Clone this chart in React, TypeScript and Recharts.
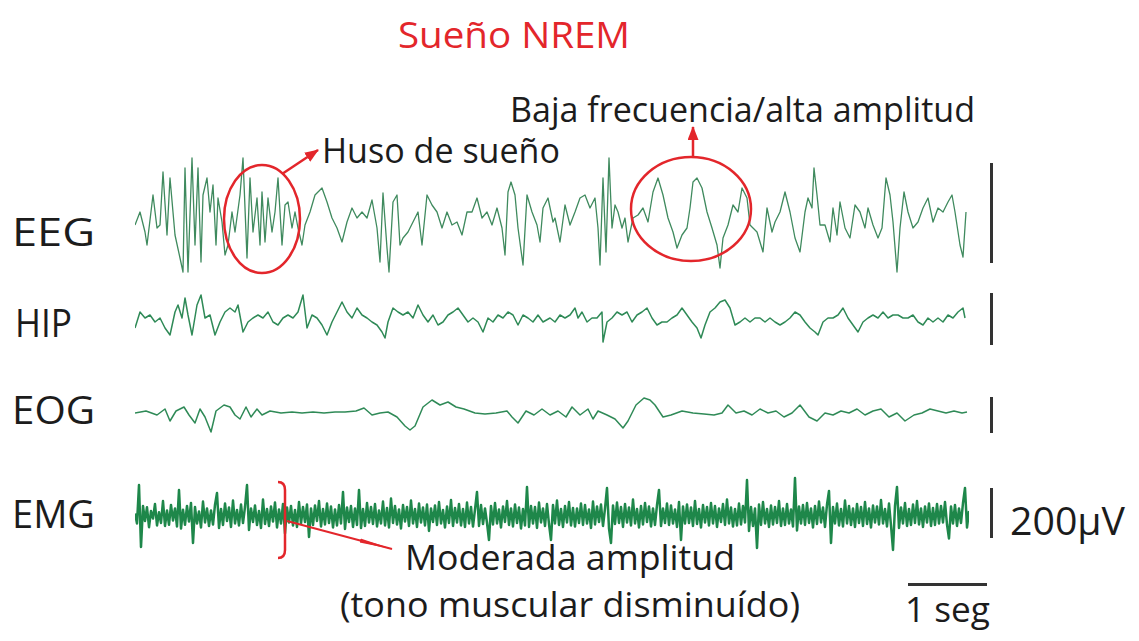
import React from 'react';
import { LineChart, Line, XAxis, YAxis } from 'recharts';

// Time is in screen samples (about 79 samples = 1 s), amplitude in µV.
const eeg: [number, number][] = [
  [0, 0], [5, 26], [10, -14], [12, -40], [18, 60], [22, -6], [25, 0], [28, 106], [32, -20], [35, 94],
  [40, -20], [45, -66], [48, -94], [50, 114], [53, -94], [57, 134], [60, -40], [63, 114], [66, -74], [68, 60],
  [72, 94], [75, 26], [78, 80], [81, -40], [83, 54], [87, 6], [90, -60], [93, -40], [97, 26], [100, -14],
  [105, 60], [108, 134], [112, -66], [115, 94], [118, -14], [122, 54], [125, -40], [127, 66], [130, -34], [133, 54],
  [137, -14], [140, 26], [143, 94], [147, -40], [150, 40], [153, 46], [157, -6], [160, 26], [163, -6], [167, -40],
  [170, 0], [175, 26], [180, 60], [187, 74], [192, 46], [197, 14], [202, -6], [207, -34],
  [212, 6], [217, 34], [222, 14], [227, 26], [232, 14], [237, 50], [242, -6], [245, -74], [248, 64], [252, -46],
  [254, -94], [258, 46], [262, 60], [265, -40], [268, -26], [273, -14], [278, 6], [283, 26], [287, -40], [292, 60],
  [297, 40], [302, 26], [307, -6], [312, 26], [317, 0], [322, 6], [327, -20], [332, 26], [337, 26], [342, 54],
  [347, 14], [352, 26], [357, 0], [362, 34], [367, -6], [370, -60], [373, 66], [376, 86], [380, 60], [383, -6],
  [388, -80], [392, 60], [397, 26], [402, 0], [405, -34], [408, 34], [413, 54], [418, 6],
  [420, 14], [425, -34], [430, 40], [435, 0], [440, 26], [445, 54], [450, 60], [455, 34], [460, 54], [463, -6],
  [465, -80], [468, 94], [471, -54], [474, 134], [477, -6], [480, 40], [483, 26], [487, -6], [490, 14], [493, -34],
  [498, 14], [503, 20], [508, 34], [513, 6], [518, 66], [523, 94], [528, 60], [533, 14], [538, -14], [542, -46],
  [547, -20], [552, -6], [555, 34], [558, 86], [562, 94], [567, 74], [572, 26], [577, -6], [582, -40], [585, -86],
  [588, -26], [593, 0], [598, 40], [603, 26], [607, 74], [612, 54], [615, 0], [622, -14],
  [628, -54], [632, 34], [637, -14], [640, 6], [645, 26], [650, 66], [655, 26], [660, -26], [665, -54], [670, 26],
  [673, 54], [677, 34], [679, 114], [682, 60], [685, 0], [690, 0], [695, -34], [698, 34], [702, -20], [705, 46],
  [710, -6], [715, -26], [720, 40], [725, 26], [730, -6], [733, 34], [738, 0], [743, -26], [747, -6], [751, 94],
  [755, 60], [758, 6], [762, -94], [765, -6], [769, 66], [773, 26], [778, -6], [783, 6], [788, 34], [793, 54],
  [798, 6], [803, 34], [808, 26], [813, 46], [817, 60], [820, 26], [825, -40], [828, -64], [831, 26],
];

const hip: [number, number][] = [
  [0, -40], [5, 24], [10, 0], [15, 12], [20, -16], [25, 0], [30, -40], [35, -68], [40, 24], [43, 52],
  [47, 0], [50, 80], [53, 12], [57, -68], [62, 52], [66, 92], [70, 0], [75, 12], [80, -68], [85, -16],
  [90, 24], [95, 40], [100, 24], [103, 52], [108, -56], [113, -16], [118, 0], [123, 12], [128, 0], [133, 24],
  [138, -16], [143, -28], [148, 0], [153, 12], [158, 0], [163, 24], [168, 92], [172, -40], [177, 12], [182, 0],
  [187, -28], [192, -68], [197, -16], [202, 24], [207, 64], [212, 24], [217, 0], [222, 40], [227, 12], [232, 0],
  [237, -16], [242, -28], [247, -56], [250, -80], [253, -16], [258, 40], [263, 24], [268, 12], [273, 24], [278, 0],
  [283, 52], [288, 12], [293, -16], [298, 12], [303, -28], [308, -16], [313, 12], [318, 24], [323, 40], [328, 12],
  [333, -16], [338, 0], [343, -16], [348, -56], [353, 0], [358, -16], [363, 12], [368, 0], [373, 24], [378, 12],
  [383, -28], [388, 12], [393, 0], [398, -16], [403, 12], [408, -16], [415, 0], [420, -16], [425, 12], [430, 0],
  [435, 12], [440, 40], [443, 0], [447, 24], [452, -16], [457, 0], [462, 0], [467, 24], [468, -96], [472, -16],
  [477, 0], [482, 24], [487, 12], [492, 24], [497, -16], [502, 12], [507, 24], [512, 40], [517, 0], [522, -28],
  [527, -16], [532, -16], [537, 0], [542, 12], [547, 40], [552, 12], [557, -16], [562, -40], [566, -80], [570, -28],
  [575, 24], [580, 40], [585, 64], [590, 72], [595, 40], [600, -28], [605, -16], [610, 0], [615, -16], [620, 0],
  [625, 0], [630, -16], [635, 0], [640, -16], [645, -28], [650, -16], [655, 0], [660, 24], [665, 12], [670, -16],
  [675, -40], [680, -56], [683, -68], [688, -16], [693, 0], [698, 0], [703, 12], [708, 40], [713, 0], [718, -28],
  [723, -56], [728, -16], [733, 0], [738, 12], [743, 0], [748, 24], [753, 0], [758, 12], [763, 12], [768, 0],
  [773, 0], [778, 12], [783, -16], [788, -28], [793, 0], [798, -16], [803, 0], [808, -16], [813, 12], [818, 0],
  [823, 24], [828, 40], [830, 0],
];

const eog: [number, number][] = [
  [0, 0], [11, 10], [22, -10], [30, 20], [35, -40], [41, 10], [49, 30], [54, -10], [60, -50], [65, 20],
  [70, -20], [76, -95], [81, 10], [89, 40], [95, 30], [100, -10], [105, -30], [111, 30], [116, -20], [122, 20],
  [127, -10], [135, 10], [146, 0], [157, 5], [167, 0], [178, 5], [189, 0], [200, 5], [210, 5], [221, 10],
  [229, 25], [237, -10], [245, 0], [253, 5], [262, -20], [270, -65], [275, -85], [280, -65], [288, 30], [297, 65],
  [305, 40], [313, 55], [321, 30], [329, 20], [340, 0], [350, -5], [361, 0], [372, 10], [377, -20], [383, -50],
  [391, 10], [399, -10], [407, 20], [415, -10], [423, 10], [431, -20], [437, 30], [445, -10], [453, 20], [458, -30],
  [463, 10], [472, -10], [480, -30], [488, -75], [493, -40], [501, 40], [509, 75], [515, 65], [520, 40], [528, -20],
  [536, -10], [547, 10], [558, 0], [569, -5], [579, -10], [587, 0], [593, 40], [601, 0], [609, 10], [617, -10],
  [625, 20], [633, 0], [641, 10], [649, -20], [657, 0], [665, 40], [674, -20], [682, -40], [690, 0], [698, -10],
  [706, 10], [714, 0], [722, 20], [730, -10], [738, 10], [746, 20], [754, -20], [762, 0], [770, -40], [779, -10],
  [787, 0], [795, 20], [803, 10], [811, 0], [819, 10], [827, 0], [832, 5],
];

// EMG is evenly sampled, two screen samples apart
const emg: number[] = [
  10, -30, 124, -124, 40, -20, 35, -45, 20, -10, 48, -38, 15, -28, 60, -40, 22, -35, 44, -18,
  30, -42, 104, -50, 25, -35, 40, -22, 52, -108, 36, -30, 18, -46, 58, -26, 30, -40, 22, -34,
  45, 92, -48, 28, -36, 50, -20, 34, -44, 62, -30, 24, -38, 46, -28, 36, 124, -56, 30, -24,
  42, -36, 20, -48, 66, -32, 28, -40, 38, -22, 54, -46, 26, -30, 48, -70, 34, -26, 40, -38,
  24, -44, 56, -30, 36, -24, 46, -84, 30, -36, 42, -20, 60, -42, 28, -34, 50, -28, 38, -46,
  26, -38, 44, -30, 96, -52, 34, -24, 40, -44, 30, -36, 104, -48, 28, -40, 52, -26, 36, -32,
  48, -42, 22, -30, 58, -38, 32, -46, 70, -28, 40, -34, 26, -50, 44, -22, 36, -40, 62, -30,
  28, -44, 50, -26, 34, -38, 46, -60, 30, -24, 42, -36, 56, -30, 24, -46, 38, -28, 64, -40,
  32, -26, 48, -38, 28, -44, 54, -30, 36, -42, 26, 96, -40, 44, -32, 30, -28, -96, 40, -34,
  52, -30, 26, -46, 38, -24, 60, -36, 30, -42, 46, -28, 34, -50, 28, -38, 116, -44, 40, -30,
  36, -48, 54, -26, 30, -40, 48, -32, -96, 44, -30, 62, -36, 28, -44, 40, -26, 56, -38, 32,
  -42, 30, -28, 50, -36, 44, -30, 26, -48, 58, -34, 38, -24, 46, -40, 30, 112, -50, -108, 42,
  -32, 54, -28, 36, -44, 48, -26, 34, -38, 66, -30, 28, -46, 40, -34, 52, -24, 38, -42, 30,
  -36, 44, 104, -40, 30, -28, 50, -36, 42, -30, 26, -44, 56, -96, 38, -30, 46, -28, 34, -40,
  60, -32, 28, -46, 44, -26, 36, -38, 52, -30, 40, -44, 30, -24, 48, -36, 66, -30, 34, -42,
  28, -38, 50, -34, 40, -26, 144, -60, 36, -40, 30, -128, 46, -36, 56, -30, 28, -44, 42, -34,
  36, -28, 60, -40, 30, -36, 48, -30, 26, -42, 152, -58, 38, -30, 44, -36, 52, -28, 30, -46,
  40, -32, 58, -26, 34, -44, 46, 100, -108, 36, -30, 50, -38, 28, -42, 62, -30, 40, -36, 30,
  -44, 48, -28, 36, -40, 56, -32, 30, -46, 42, -26, 38, -34, 64, -30, 28, -42, 50, -38, -136,
  40, 116, -48, 34, -30, 52, -40, 28, -36, 46, -28, 60, -34, 30, -44, 38, -26, 50, -40, 32,
  -36, 48, -30, 40, -26, 56, -34, -90, 38, -30, 44, -40, 30, -28, 52, 112, -46, 20,
];

const channelLabels = ['EEG', 'HIP', 'EOG', 'EMG'];

const RED = '#e3262b';
const INK = '#1c1c1c';
const BAR = '#333333';
const FONT = '"Open Sans", "Noto Sans", sans-serif';

type Pt = { t: number; v: number };

const toPts = (arr: [number, number][]): Pt[] => arr.map(([t, v]) => ({ t, v }));

interface TraceProps {
  data: Pt[];
  top: number;
  height: number;
  domainY: [number, number];
  domainX: [number, number];
  color: string;
  strokeWidth: number;
}

const Trace: React.FC<TraceProps> = ({ data, top, height, domainY, domainX, color, strokeWidth }) => (
  <div style={{ position: 'absolute', left: 135, top }}>
    <LineChart width={834} height={height} data={data} margin={{ top: 0, right: 0, bottom: 0, left: 0 }}>
      <XAxis dataKey="t" type="number" domain={domainX} hide />
      <YAxis type="number" domain={domainY} allowDataOverflow hide />
      <Line
        type="linear"
        dataKey="v"
        stroke={color}
        strokeWidth={strokeWidth}
        dot={false}
        isAnimationActive={false}
        strokeLinejoin="round"
      />
    </LineChart>
  </div>
);

// label text squeezed to a fixed width so the condensed face is kept
const Label: React.FC<{ x: number; y: number; w: number; size: number; color?: string; children: string }> = ({
  x, y, w, size, color = INK, children,
}) => (
  <text x={x} y={y} fontSize={size} fill={color} fontFamily={FONT} textLength={w} lengthAdjust="spacingAndGlyphs">
    {children}
  </text>
);

export default function App() {
  const emgPts: Pt[] = emg.map((v, i) => ({ t: i, v }));
  const labelY = [246, 337, 424, 528];

  return (
    <div style={{ position: 'absolute', left: 0, top: 0, width: 1139, height: 641, background: '#fff', overflow: 'hidden' }}>
      <Trace data={toPts(eeg)} top={145} height={140} domainY={[-120, 160]} domainX={[0, 834]} color="#3f8a5e" strokeWidth={1.3} />
      <Trace data={toPts(hip)} top={288} height={60} domainY={[-120, 120]} domainX={[0, 834]} color="#2f8a57" strokeWidth={1.5} />
      <Trace data={toPts(eog)} top={390} height={50} domainY={[-135, 115]} domainX={[0, 834]} color="#2f8a57" strokeWidth={1.5} />
      <Trace data={emgPts} top={474} height={84} domainY={[-168, 168]} domainX={[0, 417]} color="#1e874a" strokeWidth={2.5} />

      <svg width={1139} height={641} style={{ position: 'absolute', left: 0, top: 0, pointerEvents: 'none' }}>
        <defs>
          <marker id="head" markerUnits="userSpaceOnUse" markerWidth={14} markerHeight={11} refX={13} refY={5.5} orient="auto" viewBox="0 0 14 11">
            <path d="M0,0 L14,5.5 L0,11 z" fill={RED} />
          </marker>
          <marker id="longHead" markerUnits="userSpaceOnUse" markerWidth={34} markerHeight={9} refX={33} refY={4.5} orient="auto" viewBox="0 0 34 9">
            <path d="M0,2.5 L34,4.5 L0,6.5 z" fill={RED} />
          </marker>
        </defs>

        <Label x={398} y={48} w={232} size={36} color={RED}>Sueño NREM</Label>
        <Label x={510} y={122} w={465} size={35}>Baja frecuencia/alta amplitud</Label>
        <Label x={322} y={163} w={238} size={35}>Huso de sueño</Label>

        {channelLabels.map((c, i) => (
          <Label key={c} x={c === 'HIP' ? 15 : 12} y={labelY[i]} w={c === 'HIP' ? 57 : 83} size={38}>
            {c}
          </Label>
        ))}

        {/* spindle and slow-wave callouts */}
        <ellipse cx={262} cy={219} rx={38} ry={54} fill="none" stroke={RED} strokeWidth={2.5} />
        <line x1={282} y1={174} x2={318} y2={150} stroke={RED} strokeWidth={2.5} markerEnd="url(#head)" />
        <ellipse cx={691} cy={209} rx={60} ry={52} fill="none" stroke={RED} strokeWidth={2.5} />
        <line x1={693} y1={157} x2={693} y2={127} stroke={RED} strokeWidth={2.5} markerEnd="url(#head)" />

        {/* muscle tone bracket */}
        <path d="M278,482 Q285,482 285,490 L285,550 Q285,558 278,558" fill="none" stroke={RED} strokeWidth={2.5} />
        <line x1={287} y1={521} x2={392} y2={549} stroke={RED} strokeWidth={2} markerEnd="url(#longHead)" />

        <Label x={405} y={570} w={330} size={35}>Moderada amplitud</Label>
        <Label x={340} y={617} w={460} size={35}>(tono muscular disminuído)</Label>

        {/* calibration bars: 200 µV per channel, 1 s */}
        <rect x={990} y={163} width={3} height={100} fill={BAR} />
        <rect x={990} y={293} width={3} height={52} fill={BAR} />
        <rect x={990} y={397} width={3} height={36} fill={BAR} />
        <rect x={990} y={488} width={3} height={50} fill={BAR} />
        <rect x={908} y={583} width={79} height={3} fill={BAR} />
        <Label x={1010} y={535} w={115} size={38}>200µV</Label>
        <Label x={905} y={622} w={85} size={35}>1 seg</Label>
      </svg>
    </div>
  );
}
